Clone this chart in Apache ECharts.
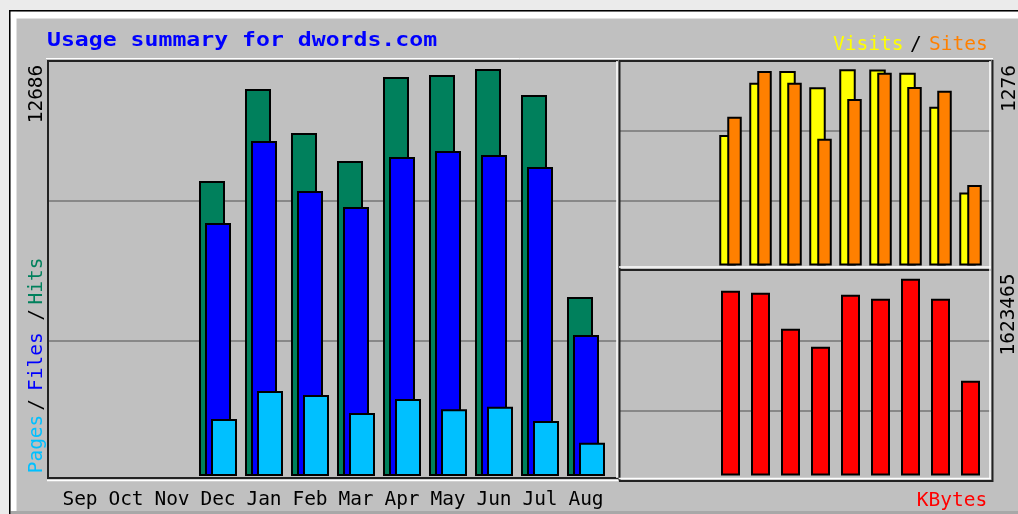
<!DOCTYPE html>
<html>
<head>
<meta charset="utf-8">
<title>Usage summary for dwords.com</title>
<script src="https://cdn.jsdelivr.net/npm/echarts@6/dist/echarts.min.js"></script>
<style>
html, body { margin: 0; padding: 0; background: #ebebeb; }
#chart { width: 1018px; height: 514px; }
</style>
</head>
<body>
<div id="chart"></div>
<script>
// monthly figures, Sep..Aug (no data before Dec)
var months = ['Sep', 'Oct', 'Nov', 'Dec', 'Jan', 'Feb', 'Mar', 'Apr', 'May', 'Jun', 'Jul', 'Aug'];
var hits   = [null, null, null, 9195, 12063, 10691, 9818, 12437, 12499, 12686, 11876, 5579];
var files  = [null, null, null, 7886, 10442, 8883, 8385, 9943, 10130, 10006, 9631, 4395];
var pages  = [null, null, null, 1777, 2649, 2525, 1964, 2400, 2079, 2160, 1714, 1038];
var visits = [null, null, null, 849, 1189, 1265, 1159, 1276, 1274, 1254, 1033, 474];
var sites  = [null, null, null, 968, 1265, 1189, 825, 1083, 1254, 1161, 1137, 524];
var kbytes = [null, null, null, 1524500, 1508000, 1211000, 1062500, 1491500, 1458500, 1623465, 1458500, 782000];

var hitsMax = Math.max.apply(null, hits);
var visitsMax = Math.max.apply(null, visits);
var kbytesMax = Math.max.apply(null, kbytes);

var FONT = 'DejaVu Sans Mono';
var DARK = '#222';

function hline(x1, x2, y, color, w) {
    return { type: 'line', z: 20, shape: { x1: x1, y1: y, x2: x2, y2: y }, style: { stroke: color, lineWidth: w } };
}
function vline(x, y1, y2, color, w) {
    return { type: 'line', z: 20, shape: { x1: x, y1: y1, x2: x, y2: y2 }, style: { stroke: color, lineWidth: w } };
}
function label(text, x, y, color, rot, opts) {
    opts = opts || {};
    return {
        type: 'text', z: 30, x: x, y: y, rotation: rot || 0, scaleX: opts.scaleX || 1,
        style: {
            text: text, fill: color, fontFamily: FONT, fontSize: opts.size || 19.5,
            fontWeight: opts.bold ? 'bold' : 'normal',
            align: opts.align || 'center', verticalAlign: 'middle'
        }
    };
}

// hidden axes that only carry the grey grid lines of each panel
function lineAxis(gi) {
    return {
        type: 'value', gridIndex: gi, min: 0, max: 3, interval: 1,
        axisLabel: { show: false }, axisLine: { show: false }, axisTick: { show: false },
        splitLine: { show: true, showMinLine: false, showMaxLine: false, lineStyle: { color: '#888', width: 2 } }
    };
}
function plainX(gi) {
    return { type: 'value', gridIndex: gi, min: 0, max: 1, show: false };
}
function catX(gi, showLabels) {
    return {
        type: 'category', gridIndex: gi, data: months, boundaryGap: true,
        axisLine: { show: false }, axisTick: { show: false }, splitLine: { show: false },
        axisLabel: {
            show: showLabels, interval: 0, color: '#000', fontFamily: FONT, fontSize: 19.5,
            verticalAlign: 'middle', margin: 24
        }
    };
}
function bar(name, data, color, xi, yi, width, gap) {
    return {
        name: name, type: 'bar', xAxisIndex: xi, yAxisIndex: yi, data: data,
        barWidth: width, barGap: gap, animation: false,
        itemStyle: { color: color, borderColor: '#000', borderWidth: 2 }
    };
}

var myChart = echarts.init(document.getElementById('chart'));

var option = {
    backgroundColor: '#c0c0c0',
    animation: false,
    grid: [
        { left: 57, top: 61, width: 552, height: 415 },
        { left: 48, top: 61, width: 569, height: 420 },
        { left: 625.5, top: 61, width: 360, height: 204.5 },
        { left: 619, top: 60.7, width: 372, height: 210.6 },
        { left: 625.5, top: 271, width: 360, height: 204.5 },
        { left: 619, top: 270.7, width: 372, height: 210.6 }
    ],
    xAxis: [catX(0, true), plainX(1), catX(2, false), plainX(3), catX(4, false), plainX(5)],
    yAxis: [
        { type: 'value', gridIndex: 0, min: 0, max: hitsMax * 415 / 407, show: false },
        lineAxis(1),
        { type: 'value', gridIndex: 2, min: 0, max: visitsMax * 204.5 / 196.2, show: false },
        lineAxis(3),
        { type: 'value', gridIndex: 4, min: 0, max: kbytesMax * 204.5 / 196.8, show: false },
        lineAxis(5)
    ],
    series: [
        bar('Hits', hits, '#00805c', 0, 0, 26, '-76.92%'),
        bar('Files', files, '#0000ff', 0, 0, 26, '-76.92%'),
        bar('Pages', pages, '#00c0ff', 0, 0, 26, '-76.92%'),
        bar('Visits', visits, '#ffff00', 2, 2, 16.5, '-51.5%'),
        bar('Sites', sites, '#ff8000', 2, 2, 14.5, '-51.5%'),
        bar('KBytes', kbytes, '#ff0000', 4, 4, 19, '0%')
    ],
    graphic: [
        // page margin and outer frame
        { type: 'rect', z: 1, shape: { x: 0, y: 0, width: 1018, height: 10 }, style: { fill: '#ebebeb' } },
        { type: 'rect', z: 1, shape: { x: 0, y: 0, width: 9, height: 514 }, style: { fill: '#ebebeb' } },
        { type: 'rect', z: 1, shape: { x: 10.5, y: 11.5, width: 1008, height: 7 }, style: { fill: '#fff' } },
        { type: 'rect', z: 1, shape: { x: 10.5, y: 11.5, width: 6, height: 503 }, style: { fill: '#fff' } },
        { type: 'rect', z: 1, shape: { x: 10.5, y: 511, width: 1008, height: 3 }, style: { fill: '#a8a8a8' } },
        hline(9, 1018, 10.75, '#000', 1.5),
        vline(9.75, 10, 514, '#000', 1.5),

        // panel frames
        hline(46, 993, 58.5, '#fff', 1),
        hline(47, 618, 61, DARK, 2),
        vline(48, 60, 479, DARK, 2),
        hline(47, 618, 478, DARK, 2),
        hline(47, 618, 480.5, '#fff', 1.5),
        vline(617, 61, 478, '#fff', 1.5),
        hline(619, 991, 61, DARK, 2),
        vline(619.5, 60, 480, DARK, 2),
        hline(619, 991, 267, '#fff', 1.5),
        hline(619, 991, 270, DARK, 2),
        hline(619, 991, 478.5, '#fff', 1.5),
        vline(990, 61, 479, '#fff', 1.5),
        hline(619, 993, 481, DARK, 2),
        vline(992.5, 60, 482, DARK, 2),

        // texts
        label('Usage summary for dwords.com', 47, 41, '#0000ff', 0, { size: 20, bold: true, align: 'left', scaleX: 1.157 }),
        label('Visits', 868.3, 45, '#ffff00'),
        label('/', 915.8, 45, '#000'),
        label('Sites', 958.3, 45, '#ff8000'),
        label(String(hitsMax), 37, 94, '#000', Math.PI / 2),
        label('Pages', 37, 444, '#00c0ff', Math.PI / 2),
        label('/', 37, 405, '#000', Math.PI / 2),
        label('Files', 37, 361.7, '#0000ff', Math.PI / 2),
        label('/', 37, 315, '#000', Math.PI / 2),
        label('Hits', 37, 281, '#00805c', Math.PI / 2),
        label(String(visitsMax), 1010, 88.5, '#000', Math.PI / 2),
        label(String(kbytesMax), 1009, 314.5, '#000', Math.PI / 2),
        label('KBytes', 952, 500.5, '#ff0000')
    ]
};

myChart.setOption(option);
</script>
</body>
</html>
